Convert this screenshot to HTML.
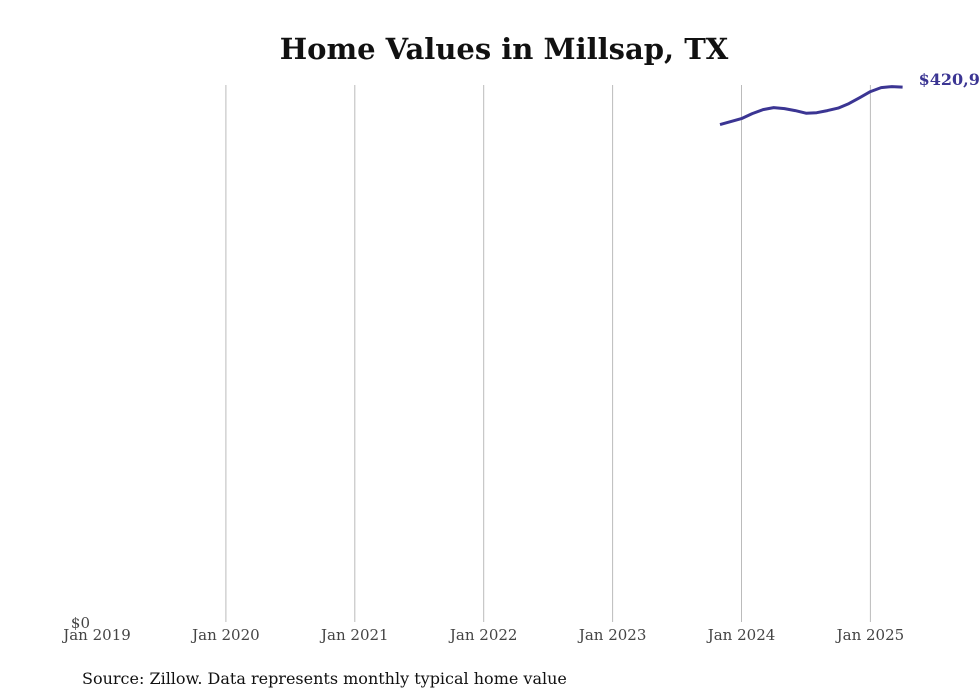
<!DOCTYPE html>
<html><head><meta charset="utf-8"><style>
body{margin:0;background:#fff;width:980px;height:699px;overflow:hidden}
svg{display:block;font-family:"DejaVu Serif","Liberation Serif",serif}
</style></head><body>
<svg id="c" width="980" height="699">
<text x="504" y="59" text-anchor="middle" font-size="29" font-weight="bold" fill="#111">Home Values in Millsap, TX</text>
<g id="grid"></g><g id="xt"></g>
<text x="90" y="628" text-anchor="end" font-size="15" fill="#444">$0</text>
<path id="line" fill="none" stroke="#3b3593" stroke-width="3" stroke-linejoin="round"/>
<text id="lbl" font-size="16" font-weight="bold" fill="#3b3593"></text>
<text x="82" y="684" font-size="16" fill="#111">Source: Zillow. Data represents monthly typical home value</text>
</svg>
<script>
const years=[2019,2020,2021,2022,2023,2024,2025];
const startMonth=[2023,10]; // Nov 2023 (0-based month)
const values=[391400,393750,396100,400050,403200,404800,404000,402400,400400,400800,402400,404400,407900,412600,417400,420500,421300,420900];
const lastLabel="$420,9";
const x=t=>97+(t-2019)*128.9;
const y=v=>622-v*(535/421000);
const g=document.getElementById('grid'),xt=document.getElementById('xt');
const NS="http://www.w3.org/2000/svg";
years.forEach((yr,i)=>{
 if(i>0){const l=document.createElementNS(NS,'line');
 l.setAttribute('x1',x(yr));l.setAttribute('x2',x(yr));l.setAttribute('y1',85);l.setAttribute('y2',622);
 l.setAttribute('stroke','#bbb');l.setAttribute('stroke-width','1');
 
 
 g.appendChild(l);}
 const t=document.createElementNS(NS,'text');
 t.setAttribute('x',x(yr));t.setAttribute('y',640);t.setAttribute('text-anchor','middle');
 t.setAttribute('font-size','15');t.setAttribute('fill','#444');t.textContent='Jan '+yr;
 
 
 xt.appendChild(t);
});
let d='';
values.forEach((v,i)=>{const t=startMonth[0]+(startMonth[1]+i)/12;d+=(i?'L':'M')+x(t).toFixed(1)+','+y(v).toFixed(1);});
document.getElementById('line').setAttribute('d',d);
const lt=startMonth[0]+(startMonth[1]+values.length-1)/12;
const lb=document.getElementById('lbl');
lb.setAttribute('x',x(lt)+16);lb.setAttribute('y',y(values[values.length-1])-2);lb.textContent=lastLabel;
</script>
</body></html>
